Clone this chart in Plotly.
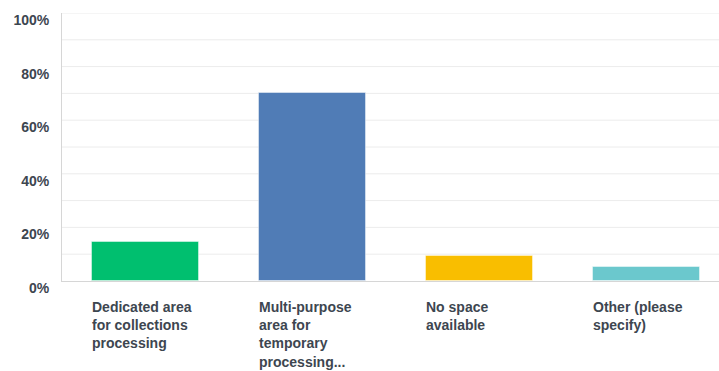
import plotly.graph_objects as go

categories = ["Dedicated area<br>for collections<br>processing",
              "Multi-purpose<br>area for<br>temporary<br>processing...",
              "No space<br>available",
              "Other (please<br>specify)"]
values = [14.5, 70.1, 9.3, 5.2]
colors = ["#00BF6F", "#507CB6", "#F9BE00", "#6BC8CD"]
tick_vals = [0, 20, 40, 60, 80, 100]
tick_text = ["0%", "20%", "40%", "60%", "80%", "100%"]

xs = list(range(len(categories)))
bar_w = 0.64

fig = go.Figure()
fig.add_trace(go.Bar(
    x=xs, y=values, width=bar_w,
    marker=dict(color=colors, line=dict(color="rgba(255,255,255,0.45)", width=1)),
    hoverinfo="skip",
))

font_family = "Liberation Sans"
txt_color = "#3d4650"

for i, c in enumerate(categories):
    fig.add_annotation(
        x=i - bar_w / 2, xref="x", xanchor="left", xshift=-2,
        y=0, yref="paper", yanchor="top", yshift=-16,
        text=c, showarrow=False, align="left",
        font=dict(family=font_family, size=14, color=txt_color, weight="bold"),
    )

fig.update_layout(
    width=719, height=371,
    margin=dict(l=62, r=0, t=13, b=90),
    plot_bgcolor="white", paper_bgcolor="white",
    showlegend=False, bargap=0,
    xaxis=dict(range=[-0.5, 3.434], showticklabels=False, showgrid=False,
               zeroline=False, showline=True, linecolor="#d6d6d6", linewidth=1,
               fixedrange=True),
    yaxis=dict(range=[0, 100], tickvals=tick_vals, ticktext=tick_text,
               showgrid=False, zeroline=False, showline=True,
               linecolor="#d6d6d6", linewidth=1,
               tickfont=dict(family=font_family, size=14, color=txt_color, weight="bold"),
               ticklabelshift=7, ticklabelstandoff=9),
)

for g in range(10, 101, 10):
    fig.add_shape(type="line", xref="paper", yref="y", x0=0, x1=1, y0=g, y1=g,
                  line=dict(color="#ececec", width=1), layer="below")

fig.write_html("out.html")
